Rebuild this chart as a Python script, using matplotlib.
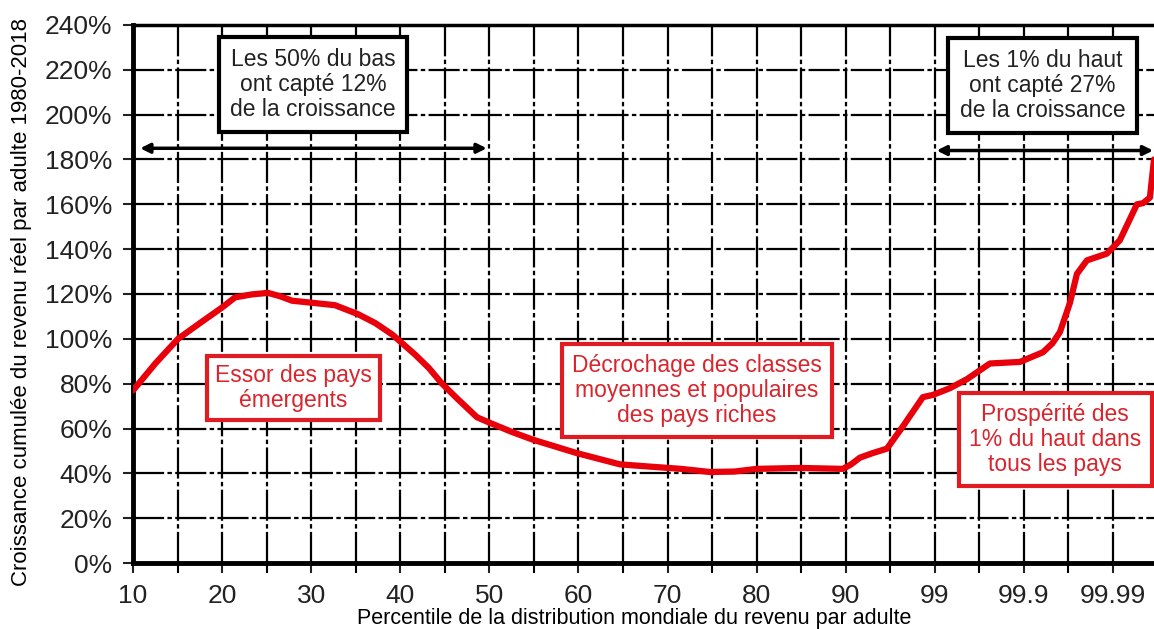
import matplotlib.pyplot as plt
from matplotlib.ticker import FuncFormatter, MultipleLocator

plt.rcParams['font.family'] = ['Liberation Sans', 'DejaVu Sans']

# tick labels of the (non linear) percentile axis, one per unit of position
tick_labels = ['10', '20', '30', '40', '50', '60', '70', '80', '90', '99', '99.9', '99.99']

# curve: position on the axis (label index) and growth in %
pos = [0.00, 0.25, 0.505, 0.75, 1.0, 1.145, 1.33, 1.515, 1.65, 1.785, 2.03, 2.267, 2.525,
       2.72, 2.907, 3.165, 3.32, 3.468, 3.648, 3.861, 4.007, 4.25, 4.489, 4.983, 5.466,
       5.802, 6.15, 6.476, 6.75, 7.003, 7.486, 7.968, 8.06, 8.159, 8.3, 8.462, 8.642,
       8.866, 8.979, 9.17, 9.36, 9.618, 9.955, 10.213, 10.32, 10.404, 10.516, 10.595,
       10.707, 10.931, 11.077, 11.268, 11.336, 11.414, 11.46]
growth = [77, 89, 100, 107, 114, 118.5, 119.8, 120.5, 119, 117, 116, 115, 111,
          107, 102, 93, 87, 80, 73, 65, 62.5, 58.5, 55, 49, 44,
          43, 42, 40.6, 40.8, 42, 42.4, 42, 44, 47, 49, 51, 61,
          74, 75, 78, 82, 89, 89.7, 94, 98, 103, 116, 129,
          135, 138, 144, 160, 160.5, 163, 180]

red = '#e8000b'
txt_red = '#d9252d'

fig = plt.figure(figsize=(11.54, 6.29), dpi=100)
ax = fig.add_axes([0.1153, 0.1049, 0.8847, 0.8554])

ax.plot(pos, growth, color=red, lw=4.5, solid_joinstyle='round', solid_capstyle='round', zorder=3)

ax.set_xlim(0, 11.46)
ax.set_ylim(0, 240)
ax.set_xticks(range(len(tick_labels)))
ax.set_xticklabels(tick_labels)
ax.xaxis.set_minor_locator(MultipleLocator(0.5))
ax.yaxis.set_major_locator(MultipleLocator(20))
ax.yaxis.set_major_formatter(FuncFormatter(lambda v, p: '%d%%' % v))
ax.tick_params(axis='both', which='both', direction='out', length=7, width=1.5, color='black')
ax.tick_params(axis='both', labelsize=19, colors='#222222')
ax.tick_params(axis='y', pad=8)
ax.tick_params(axis='x', pad=8)
ax.tick_params(axis='x', which='minor', length=7, width=1.5)

ax.grid(True, which='both', color='black', lw=1.6, ls=(0, (14, 1.5, 2, 1.5)))
ax.set_axisbelow(True)
for s in ['left', 'bottom']:
    ax.spines[s].set_linewidth(3.5)
ax.spines['top'].set_linewidth(2.5)
ax.spines['right'].set_visible(False)

ax.set_xlabel('Percentile de la distribution mondiale du revenu par adulte', fontsize=15.5)
ax.xaxis.set_label_coords(0.491, -0.083)
ax.set_ylabel('Croissance cumulée du revenu réel par adulte 1980-2018', fontsize=16)
ax.yaxis.set_label_coords(-0.099, 0.485)

# black boxes and arrows at the top
bx = dict(boxstyle='square,pad=0.5', fc='white', ec='black', lw=3)
ax.text(2.02, 213.5, 'Les 50% du bas\nont capté 12%\nde la croissance', ha='center', va='center',
        fontsize=16.5, color='#222222', bbox=bx, linespacing=1.1, zorder=5)
ax.text(10.21, 213, 'Les 1% du haut\nont capté 27%\nde la croissance', ha='center', va='center',
        fontsize=16.5, color='#222222', bbox=bx, linespacing=1.1, zorder=5)
arrow = dict(arrowstyle='<|-|>', color='black', lw=2.5, mutation_scale=14, shrinkA=0, shrinkB=0)
ax.annotate('', xy=(0.08, 185), xytext=(3.97, 185), arrowprops=arrow, zorder=5)
ax.annotate('', xy=(9.02, 184), xytext=(11.45, 184), arrowprops=arrow, zorder=5)

# red boxes
rb = dict(boxstyle='square,pad=0.45', fc='white', ec='#e01b22', lw=3)
ax.text(1.80, 78, 'Essor des pays\némergents', ha='center', va='center', fontsize=16.5,
        color=txt_red, bbox=dict(rb, boxstyle='square,pad=0.35'), linespacing=1.1, zorder=5)
ax.text(6.33, 77, 'Décrochage des classes\nmoyennes et populaires\ndes pays riches', ha='center',
        va='center', fontsize=16.5, color=txt_red, bbox=rb, linespacing=1.1, zorder=5)
ax.text(10.35, 55, 'Prospérité des\n1% du haut dans\ntous les pays', ha='center', va='center',
        fontsize=16.5, color=txt_red, bbox=rb, linespacing=1.1, zorder=5, clip_on=False)

fig.savefig('out.png', dpi=100)
